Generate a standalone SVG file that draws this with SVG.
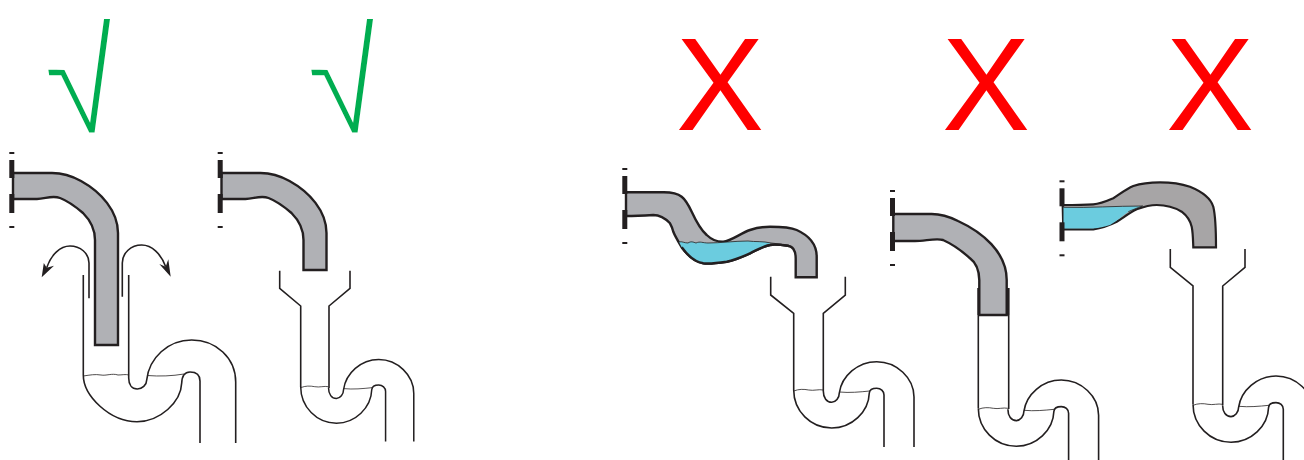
<svg xmlns="http://www.w3.org/2000/svg" width="1304" height="460" viewBox="0 0 1304 460">
<defs>
<style>
.p{fill:#b0b1b5;stroke:#231f20;stroke-width:2.4;stroke-linejoin:miter}
.w{fill:#6bccdf;stroke:none}
.t{fill:none;stroke:#231f20;stroke-width:1.6;stroke-linejoin:miter}
.l{fill:none;stroke:#231f20;stroke-width:.8}
.f{fill:#231f20;stroke:none}
.x{fill:#ff0000;font-family:"Liberation Sans",Arial,sans-serif;font-size:132px;text-anchor:middle}
.c{fill:#00ad50;stroke:#fff;stroke-width:2.500;font-family:"Liberation Sans",sans-serif;font-size:130px;text-anchor:middle}
</style>
<g id="flange">
<rect class="f" x="-4" y="-21" width="5" height="2"/>
<rect class="f" x="-4" y="-13" width="5" height="18"/>
<rect class="f" x="-4" y="21" width="5" height="19"/>
<rect class="f" x="-4" y="53" width="5" height="2"/>
</g>
<g id="trap">
<path class="t" d="M0 0C0 21 17 38 38 38C58 38 75 22 75.6 3C76 -1 79 -1.7 83 -1.7C87 -1.7 90.3 1 90.3 5V57"/>
<path class="t" d="M29.6 1C29.6 8 33 12.3 38 12.3C42 12.3 45.6 8 45.6 3C48 -14 64 -28.3 83 -28.3C103 -28.3 120.3 -12 120.3 7V57"/>
<path class="l" d="M0 1C5 -1 10 -1 15 0C20 1 25 -1 29.6 0M45.6 2C56 3 66 2 76 1"/>
</g>
</defs>
<g id="mark-check-1"><text class="c" transform="matrix(1.073 .02 .175 1.13 91.500 133)">√</text></g>
<g id="mark-check-2"><text class="c" transform="matrix(1.073 .02 .175 1.13 354.500 133)">√</text></g>
<g id="mark-x-3"><text class="x" x="720" y="130">X</text></g>
<g id="mark-x-4"><text class="x" x="986" y="130">X</text></g>
<g id="mark-x-5"><text class="x" x="1210" y="130">X</text></g>

<g id="drain-1">
<path class="t" d="M83.3 275V375C83.3 396 110 421.7 137 421.7C160 421.7 181 402 181.7 383C182 376 185 372 190 372C196 372 200 375 200 381V443"/>
<path class="t" d="M128.7 275V378C128.7 385 132 389 137.3 389C142 389 146.7 385 146.7 380C149 358 168 340 191.7 340C216 340 235.7 358 235.7 382V443"/>
<path class="l" d="M83.3 376C90 375 95 374 101 375C106 376 112 373 118 375C122 375 126 374 128.7 375M147 375.500C160 376.500 172 376 184 374"/>
<path class="p" d="M13 173H52C64 173 72 176 81 181C101 192 118 211 118 233V345H95V240C95 228 90 220 83 213C76 207 68 201 60 198C52 195 45 199 37 199H13Z"/>
<use href="#flange" x="13.300" y="173"/>
</g>
<g id="drain-2">
<path class="t" d="M279.700 270.700V288.300L300.700 306V387M350 270.700V288.300L329 306V388"/>
<use href="#trap" transform="translate(300.700 386.700) scale(.94 .96)"/>
<path class="p" d="M221.500 173H260.500C272.500 173 280.500 176 289.500 181C309.500 192 326.500 211 326.500 233V270H303.500V240C303.500 228 298.500 220 291.500 213C284.500 207 276.500 201 268.500 198C260.500 195 253.500 199 245.500 199H221.500Z"/>
<use href="#flange" x="221.700" y="173"/>
</g>
<g id="drain-3">
<path class="t" d="M770.700 276.700V295L793.700 313.300V390M845.300 276.700V295L823.300 313.300V391"/>
<use href="#trap" x="793.700" y="390"/>
<path class="p" d="M626 192.300H661.700C672 192 677 193 681.700 196.700C686 200 689 206 691.700 211.700C696 221 701 230 706.700 235C712 240 718 242 723.300 241.700C731 241 741 233 750 230C757 227.500 763 226.700 770 226.700C780 226.700 790 227 796.700 230C810 236 816.700 245 816.700 256.700V277.300H795.700V258.300C795.700 250 792 246 788.300 246C782 245 776 244 770 245C763 246 757 250 750 253.300C742 257 735 260 726.700 261.700C718 263 710 264 703.300 263.300C695 262 688 256 681.700 247.300C678 241 675 236 673.300 231.700C672 227 671 225 670 223.300C665 218 659 215 653.300 215C645 215.500 636 216 626 216Z"/>
<path class="w" d="M679 242C682 241 684 243 688 243C691 241 693 242 696 243C700 241 703 243 708 243C720 243 735 241 748 241C755 242 763 241 771 243C763 246 757 250 750 253.300C742 257 735 260 726.700 261.700C718 263 710 264 703.300 263.300C695 262 688 256 681.700 247.300Z"/>
<path class="l" d="M679 242C682 241 684 243 688 243C691 241 693 242 696 243C700 241 703 243 708 243C720 243 735 241 748 241C755 242 763 241 771 243L789 245"/>
<path fill="none" stroke="#231f20" stroke-width="2.400" d="M788.300 246C782 245 776 244 770 245C763 246 757 250 750 253.300C742 257 735 260 726.700 261.700C718 263 710 264 703.300 263.300C695 262 688 256 681.700 247.300"/>
<use href="#flange" x="626.300" y="189"/>
</g>
<g id="drain-4">
<path class="t" d="M978.300 288V408M1008.700 288V409"/>
<use href="#trap" x="978.300" y="408.300"/>
<path class="p" d="M893.300 214H931.700C942 214 950 217 958 221C982 232 1006.700 252 1006.700 280V315H979.300V280C979 268 975 262 970 258.300C962 251 952 244 943 240C936 238 925 241 915 241H893.300Z"/>
<path fill="#231f20" d="M977.500 288H979.800V315H977.500ZM1006.500 288H1009.200V315H1006.500Z"/>
<use href="#flange" x="894" y="211"/>
</g>
<g id="drain-5">
<path class="t" d="M1170.300 249V267.300L1193 286V404M1245 249V267.300L1222.700 286V405"/>
<use href="#trap" x="1193" y="404.300"/>
<path fill="#a7a5a6" stroke="#231f20" stroke-width="2.200" d="M1062.700 205C1072 205 1083 205 1093.300 204.300C1100 204 1107 201 1113.300 198.300C1120 194 1126 189 1133.300 186C1142 183 1151 182.300 1160 182.300C1172 182.300 1182 184 1190 186.700C1203 192 1211 199 1213.300 206.700C1216 218 1216 233 1216 247.300H1193.300C1193 240 1193 233 1191.700 226.700C1190 220 1186 215 1181.700 211.700C1174 207 1165 205 1156.700 205C1149 205 1143 207 1136.700 209.300C1129 213 1123 218 1116.700 221.700C1110 225 1102 228 1093.300 229.300H1063.300Z"/>
<path class="w" d="M1063.500 207.300C1090 208 1115 206 1142.700 206C1137 208 1132 210 1128.300 211.700C1123 215 1117 221 1110 225C1104 227 1099 228 1093 228.500H1063.500Z"/>
<path class="l" d="M1063.500 207.300C1090 208 1115 206 1142.700 206C1137 208 1132 210 1128.300 211.700"/>
<use href="#flange" x="1063.500" y="201.300"/>
</g>
<g id="connectors">
<path class="t" d="M89 298.300V263C89 253 80 246 70 246C60 246 51 255 46.700 267.700"/>
<polygon class="f" points="41.700,277.300 43.800,263 46.700,267.700 54,265.700"/>
<path class="t" d="M122.300 296.700V263C122.300 253 131 245 141.700 245C152 245 161 254 165.700 266.700"/>
<polygon class="f" points="170.700,276.700 159.300,264 165.700,266.700 168.300,259.300"/>
</g>
</svg>
